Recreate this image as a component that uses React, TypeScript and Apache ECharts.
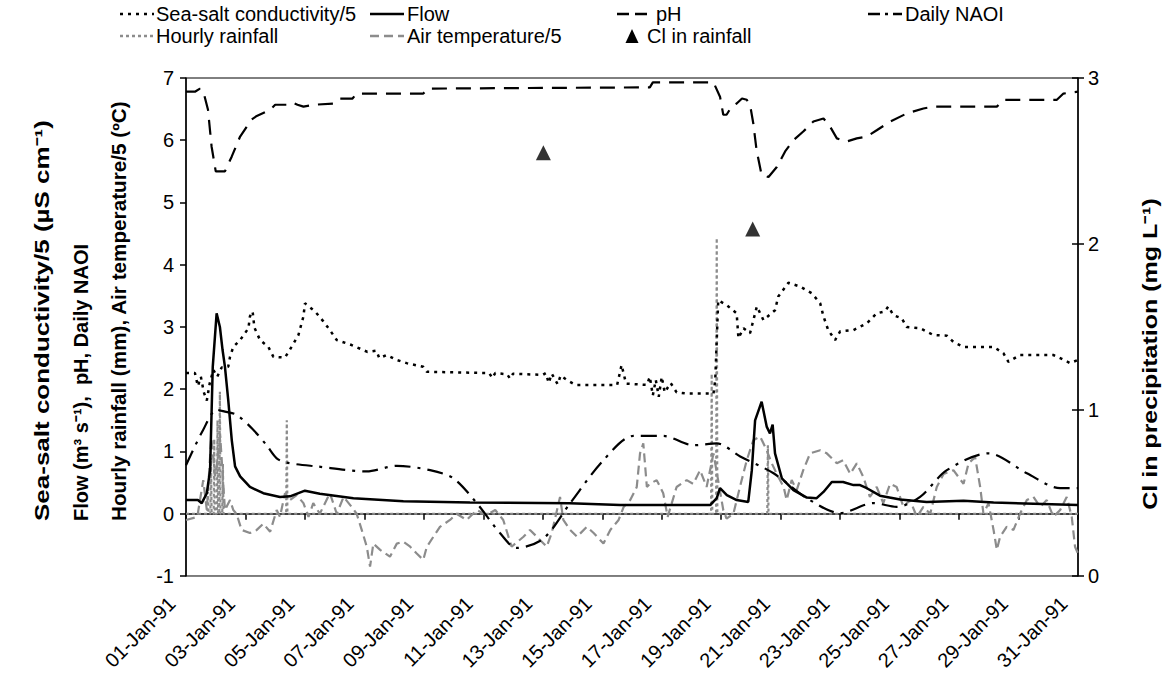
import React, { useEffect, useRef } from 'react';
import * as echarts from 'echarts';

const FONT = '"Liberation Sans", Arial, Helvetica, sans-serif';

// x axis: days since 01-Jan-91 00:00
const xTickLabels = [
  '01-Jan-91', '03-Jan-91', '05-Jan-91', '07-Jan-91', '09-Jan-91', '11-Jan-91',
  '13-Jan-91', '15-Jan-91', '17-Jan-91', '19-Jan-91', '21-Jan-91', '23-Jan-91',
  '25-Jan-91', '27-Jan-91', '29-Jan-91', '31-Jan-91',
];

const seaSaltCond5: [number, number][] = [
  [0, 2.26], [0.3, 2.26], [0.4, 2.05], [0.5, 2.2], [0.6, 1.95], [0.7, 1.82], [0.8, 2.1], [0.92, 2.31],
  [1.05, 2.2], [1.2, 2.35], [1.42, 2.36], [1.48, 2.52], [1.59, 2.68], [1.82, 2.79], [2.1, 2.98], [2.15, 3.17],
  [2.24, 3.25], [2.3, 2.99], [2.49, 2.79], [2.77, 2.68], [2.94, 2.52], [3.33, 2.51], [3.55, 2.68], [3.78, 2.87],
  [3.95, 3.17], [4.0, 3.38], [4.34, 3.25], [4.62, 3.09], [4.84, 2.95], [5.07, 2.79], [5.57, 2.71], [5.96, 2.63],
  [6.1, 2.6], [6.4, 2.62], [6.5, 2.5], [6.75, 2.55], [7.09, 2.47], [7.42, 2.42], [7.98, 2.36], [8.1, 2.28],
  [10.2, 2.26], [10.3, 2.18], [10.4, 2.26], [10.8, 2.24], [10.9, 2.17], [11.0, 2.25], [12.0, 2.23], [12.1, 2.26],
  [12.2, 2.1], [12.3, 2.25], [12.5, 2.08], [12.6, 2.22], [12.8, 2.15], [13.1, 2.07], [14.5, 2.07], [14.65, 2.39],
  [14.8, 2.09], [15.5, 2.07], [15.6, 2.2], [15.7, 1.9], [15.8, 2.15], [15.9, 1.88], [16.0, 2.2], [16.1, 1.95],
  [16.3, 2.1], [16.5, 1.95], [16.84, 1.93], [17.74, 1.93], [17.8, 2.15], [17.9, 3.43], [18.19, 3.35], [18.52, 3.22],
  [18.58, 2.82], [18.75, 2.98], [18.97, 2.9], [19.2, 3.33], [19.42, 3.11], [19.81, 3.27], [19.92, 3.49], [20.26, 3.71],
  [20.65, 3.65], [21.05, 3.54], [21.33, 3.38], [21.44, 3.17], [21.6, 2.95], [21.83, 2.79], [22.0, 2.93], [22.45, 2.95],
  [22.9, 3.06], [23.23, 3.22], [23.5, 3.25], [23.62, 3.33], [23.79, 3.19], [24.07, 3.14], [24.24, 3.0], [24.69, 2.98],
  [25.14, 2.87], [25.59, 2.86], [25.81, 2.76], [26.15, 2.68], [27.16, 2.68], [27.49, 2.58], [27.66, 2.44], [28.05, 2.55],
  [29.17, 2.55], [29.4, 2.5], [29.73, 2.42], [30, 2.47],
];

const flow: [number, number][] = [
  [0, 0.22], [0.4, 0.22], [0.53, 0.17], [0.7, 0.33], [0.81, 0.7], [0.9, 2.36], [1.03, 3.22], [1.14, 3.0],
  [1.23, 2.63], [1.31, 2.36], [1.42, 1.83], [1.54, 1.18], [1.65, 0.76], [1.82, 0.6], [2.15, 0.43], [2.6, 0.33],
  [3.16, 0.27], [3.5, 0.28], [4.0, 0.37], [4.5, 0.32], [5.63, 0.25], [7.31, 0.2], [9.55, 0.18], [12.9, 0.17],
  [14.6, 0.14], [17.63, 0.14], [17.85, 0.25], [17.96, 0.41], [18.19, 0.3], [18.52, 0.22], [18.91, 0.19], [19.03, 0.7],
  [19.14, 1.5], [19.36, 1.8], [19.53, 1.4], [19.64, 1.29], [19.73, 1.43], [19.81, 0.97], [20.04, 0.57], [20.43, 0.38],
  [20.88, 0.26], [21.21, 0.25], [21.44, 0.35], [21.72, 0.51], [22.1, 0.51], [22.45, 0.46], [22.67, 0.46], [22.9, 0.41],
  [23.34, 0.29], [24.02, 0.23], [24.91, 0.19], [26.15, 0.21], [27.16, 0.18], [30, 0.14],
];

const pH: [number, number][] = [
  [0, 6.78], [0.3, 6.78], [0.47, 6.83], [0.6, 6.75], [0.74, 6.49], [0.86, 5.9], [1.0, 5.5], [1.31, 5.5],
  [1.54, 5.74], [1.82, 6.06], [2.2, 6.33], [2.38, 6.39], [2.83, 6.49], [3.0, 6.57], [3.5, 6.57], [3.6, 6.6],
  [3.75, 6.57], [3.95, 6.54], [4.3, 6.57], [4.95, 6.59], [5.18, 6.67], [5.6, 6.67], [5.74, 6.75], [7.98, 6.75],
  [8.15, 6.83], [15.6, 6.85], [15.7, 6.93], [17.74, 6.93], [17.96, 6.7], [18.07, 6.41], [18.18, 6.41], [18.35, 6.54],
  [18.52, 6.59], [18.7, 6.67], [18.86, 6.65], [18.97, 6.57], [19.08, 6.27], [19.19, 5.84], [19.36, 5.44], [19.59, 5.41],
  [19.87, 5.57], [20.15, 5.82], [20.43, 6.0], [20.76, 6.14], [21.1, 6.3], [21.44, 6.35], [21.66, 6.22], [21.89, 6.03],
  [22.22, 5.98], [22.56, 6.03], [22.9, 6.06], [23.23, 6.16], [23.68, 6.3], [24.24, 6.43], [24.8, 6.51], [25.14, 6.54],
  [27.27, 6.54], [27.49, 6.65], [29.29, 6.65], [29.51, 6.75], [30, 6.78],
];

const dailyNAOI: [number, number][] = [
  [0, 0.78], [0.58, 1.35], [1.03, 1.67], [1.31, 1.64], [1.7, 1.59], [2.26, 1.35], [2.71, 1.1], [3.05, 0.89],
  [3.39, 0.82], [4.4, 0.76], [6.08, 0.68], [7.09, 0.77], [8.21, 0.7], [8.99, 0.57], [9.78, 0.17], [10.56, -0.31],
  [11.12, -0.55], [12.02, -0.4], [12.92, 0.17], [14.04, 0.86], [15.05, 1.25], [16.05, 1.25], [17.06, 1.1], [17.85, 1.13],
  [18.64, 0.92], [19.76, 0.65], [20.88, 0.25], [22.0, 0.01], [23.12, 0.17], [23.9, 0.11], [24.69, 0.27], [25.59, 0.7],
  [26.99, 0.97], [28.28, 0.65], [29.4, 0.41], [30, 0.41],
];

const hourlyRainfall: [number, number][] = [
  [0, 0], [0.72, 0], [0.74, 0.35], [0.76, 0], [0.82, 0], [0.84, 0.9], [0.86, 0], [0.93, 0], [0.95, 1.2], [0.97, 0],
  [1.04, 0], [1.06, 1.5], [1.08, 0], [1.12, 0], [1.14, 1.96], [1.16, 0], [1.22, 0], [1.24, 0.8], [1.26, 0],
  [3.37, 0], [3.39, 1.5], [3.41, 0], [17.66, 0], [17.68, 2.25], [17.7, 0], [17.83, 0],
  [17.85, 4.43], [17.87, 0], [19.55, 0], [19.57, 1.1], [19.59, 0], [30, 0],
];

const airTemp5: [number, number][] = [
  [0, -0.1], [0.38, -0.05], [0.58, 0.54], [0.7, 0.06], [0.85, 1.22], [0.98, 0.6], [1.09, 0.97], [1.15, 1.25],
  [1.31, 0.06], [1.48, 0.22], [1.59, 0.06], [1.7, 0.0], [1.87, -0.26], [2.15, -0.31], [2.38, -0.26], [2.6, -0.16],
  [2.83, -0.29], [3.05, 0.06], [3.16, -0.05], [3.33, 0.33], [3.5, 0.22], [3.72, 0.3], [3.95, 0.17], [4.12, -0.05],
  [4.28, 0.17], [4.5, 0.0], [4.84, 0.33], [5.07, 0.0], [5.3, 0.27], [5.57, 0.11], [5.74, 0.0], [5.91, -0.26],
  [6.08, -0.53], [6.19, -0.85], [6.3, -0.48], [6.53, -0.58], [6.86, -0.69], [7.09, -0.48], [7.31, -0.45], [7.54, -0.53],
  [7.76, -0.64], [7.98, -0.74], [8.1, -0.53], [8.32, -0.37], [8.54, -0.21], [8.88, -0.1], [9.1, 0.0], [9.44, -0.1],
  [9.78, 0.06], [10.11, -0.02], [10.4, 0.06], [10.67, -0.1], [10.95, -0.53], [11.35, -0.37], [11.57, -0.26], [11.8, -0.37],
  [12.13, -0.53], [12.3, -0.31], [12.58, 0.27], [12.69, -0.1], [12.92, -0.26], [13.15, -0.37], [13.48, -0.21], [13.71, -0.31],
  [14.04, -0.48], [14.27, -0.26], [14.55, -0.1], [14.72, 0.11], [14.94, 0.22], [15.16, 0.43], [15.27, 0.97], [15.38, 1.13],
  [15.5, 0.43], [15.6, 0.48], [15.83, 0.54], [16.05, 0.33], [16.2, -0.05], [16.5, 0.43], [16.84, 0.54], [17.06, 0.48],
  [17.29, 0.7], [17.51, 0.43], [17.74, 0.97], [18.07, 0.06], [18.18, -0.08], [18.41, 0.0], [18.63, 0.43], [18.86, 0.86],
  [19.08, 1.18], [19.31, 1.24], [19.53, 1.02], [19.7, 0.81], [19.87, 0.64], [20.1, 0.43], [20.2, 0.22], [20.37, 0.54],
  [20.54, 0.38], [20.76, 0.7], [20.99, 0.97], [21.33, 1.02], [21.55, 0.97], [21.89, 0.81], [22.1, 0.86], [22.34, 0.64],
  [22.56, 0.81], [22.78, 0.59], [23.0, 0.27], [23.23, 0.43], [23.45, 0.17], [23.68, 0.48], [23.9, 0.43], [24.13, 0.11],
  [24.35, 0.22], [24.58, -0.05], [24.8, 0.11], [25.03, 0.0], [25.25, 0.43], [25.48, 0.64], [25.81, 0.7], [26.15, 0.48],
  [26.32, 0.81], [26.54, 0.91], [26.71, 0.43], [26.82, 0.0], [26.99, 0.17], [27.16, -0.26], [27.27, -0.58], [27.38, -0.37],
  [27.6, -0.21], [27.83, -0.26], [28.05, 0.0], [28.28, 0.22], [28.5, 0.27], [28.73, 0.11], [28.95, 0.22], [29.17, -0.05],
  [29.4, 0.06], [29.62, 0.27], [29.79, -0.05], [29.9, -0.53], [30, -0.64],
];

const clInRainfall: [number, number][] = [
  [12.02, 2.55], [19.06, 2.09],
];

const BLACK = '#000000';
const GREY = '#8c8c8c';

function legendLine(x: number, y: number, stroke: string, dash: number[] | null, text: string, textX?: number) {
  return [
    {
      type: 'line',
      shape: { x1: x, y1: y, x2: x + 34, y2: y },
      style: { stroke, lineWidth: 2.5, lineDash: dash || undefined },
      silent: true,
    },
    {
      type: 'text',
      x: textX ?? x + 37,
      y,
      style: { text, fontSize: 20, fontFamily: FONT, fill: BLACK, align: 'left', verticalAlign: 'middle' },
      silent: true,
    },
  ];
}

function titleText(x: number, text: string, stretch: number) {
  return {
    type: 'text',
    x,
    y: 521,
    rotation: Math.PI / 2,
    scaleX: stretch,
    style: { text, fontSize: 20, fontWeight: 'bold', fontFamily: FONT, fill: BLACK, align: 'left', verticalAlign: 'middle' },
    silent: true,
  };
}

export default function App() {
  const ref = useRef<HTMLDivElement>(null);
  useEffect(() => {
    if (!ref.current) return;
    const chart = echarts.init(ref.current, null, { renderer: 'svg' });
    const lineSeries = (name: string, data: [number, number][], color: string, width: number, type: any, z: number, smooth: any = false) => ({
      name,
      type: 'line',
      data,
      yAxisIndex: 0,
      showSymbol: false,
      symbol: 'none',
      smooth,
      z,
      lineStyle: { color, width, type },
      emphasis: { disabled: true },
    });
    const option: any = {
      animation: false,
      backgroundColor: '#ffffff',
      textStyle: { fontFamily: FONT },
      grid: { left: 186, right: 95, top: 78, bottom: 97, show: true, borderColor: BLACK, borderWidth: 1, backgroundColor: 'transparent' },
      xAxis: {
        type: 'value',
        min: 0,
        max: 30,
        interval: 2,
        axisLine: { show: true, lineStyle: { color: BLACK, width: 1.5 } },
        axisTick: { show: true, length: 6, lineStyle: { color: BLACK, width: 1.5 } },
        splitLine: { show: false },
        axisLabel: {
          rotate: 45,
          margin: 10,
          padding: [0, 20, 0, 0],
          fontSize: 20,
          color: BLACK,
          fontFamily: FONT,
          formatter: (v: number) => xTickLabels[Math.round(v / 2)] || '',
        },
      },
      yAxis: [
        {
          type: 'value',
          min: -1,
          max: 7,
          interval: 1,
          position: 'left',
          axisLine: { show: true, lineStyle: { color: BLACK, width: 1.5 } },
          axisTick: { show: true, length: 6, lineStyle: { color: BLACK, width: 1.5 } },
          splitLine: { show: false },
          axisLabel: { fontSize: 20, color: BLACK, margin: 12, fontFamily: FONT },
        },
        {
          type: 'value',
          min: 0,
          max: 3,
          interval: 1,
          position: 'right',
          axisLine: { show: true, lineStyle: { color: BLACK, width: 1.5 } },
          axisTick: { show: true, length: 6, lineStyle: { color: BLACK, width: 1.5 } },
          splitLine: { show: false },
          axisLabel: { fontSize: 20, color: BLACK, margin: 10, fontFamily: FONT },
        },
        {
          type: 'value',
          min: 0,
          max: 3,
          interval: 1,
          position: 'right',
          axisLine: { show: false },
          axisTick: { show: true, inside: true, length: 6, lineStyle: { color: BLACK, width: 1.5 } },
          splitLine: { show: false },
          axisLabel: { show: false },
        },
      ],
      series: [
        lineSeries('Hourly rainfall', hourlyRainfall, GREY, 2.2, [3, 3], 1),
        lineSeries('Air temperature/5', airTemp5, GREY, 2.2, [9, 5], 2),
        lineSeries('Daily NAOI', dailyNAOI, BLACK, 2.2, [16, 7, 3, 7], 3, 0.3),
        lineSeries('Sea-salt conductivity/5', seaSaltCond5, BLACK, 2.5, [3, 5], 4),
        lineSeries('pH', pH, BLACK, 2.2, [15, 9], 5),
        lineSeries('Flow', flow, BLACK, 2.5, 'solid', 6),
        {
          name: 'Cl in rainfall',
          type: 'scatter',
          yAxisIndex: 1,
          data: clInRainfall,
          symbol: 'triangle',
          symbolSize: 15,
          itemStyle: { color: BLACK },
          z: 7,
        },
      ],
      graphic: [
        ...legendLine(120, 14, BLACK, [3, 5], 'Sea-salt conductivity/5', 156),
        ...legendLine(370, 14, BLACK, null, 'Flow'),
        ...legendLine(617, 14, BLACK, [12, 6], 'pH', 656),
        ...legendLine(868, 14, BLACK, [12, 5, 3, 5], 'Daily NAOI', 905),
        ...legendLine(120, 36, GREY, [3, 3], 'Hourly rainfall', 156),
        ...legendLine(370, 36, GREY, [9, 5], 'Air temperature/5'),
        {
          type: 'polygon',
          shape: { points: [[632, 29], [625.5, 43], [638.5, 43]] },
          style: { fill: BLACK },
          silent: true,
        },
        {
          type: 'text',
          x: 647,
          y: 36,
          style: { text: 'Cl in rainfall', fontSize: 20, fontFamily: FONT, fill: BLACK, align: 'left', verticalAlign: 'middle' },
          silent: true,
        },
        titleText(42, 'Sea-salt conductivity/5 (µS cm⁻¹)', 1.3),
        titleText(81, 'Flow (m³ s⁻¹),  pH, Daily NAOI', 1.0),
        titleText(119, 'Hourly rainfall (mm), Air temperature/5 (ºC)', 1.035),
        {
          type: 'text',
          x: 1150,
          y: 354,
          rotation: Math.PI / 2,
          scaleX: 1.25,
          style: { text: 'Cl in precipitation (mg L⁻¹)', fontSize: 20, fontWeight: 'bold', fontFamily: FONT, fill: BLACK, align: 'center', verticalAlign: 'middle' },
          silent: true,
        },
      ],
    };
    chart.setOption(option);
    return () => chart.dispose();
  }, []);
  return (
    <div
      ref={ref}
      style={{ position: 'fixed', left: 0, top: 0, width: 1173, height: 673, background: '#ffffff' }}
    />
  );
}
